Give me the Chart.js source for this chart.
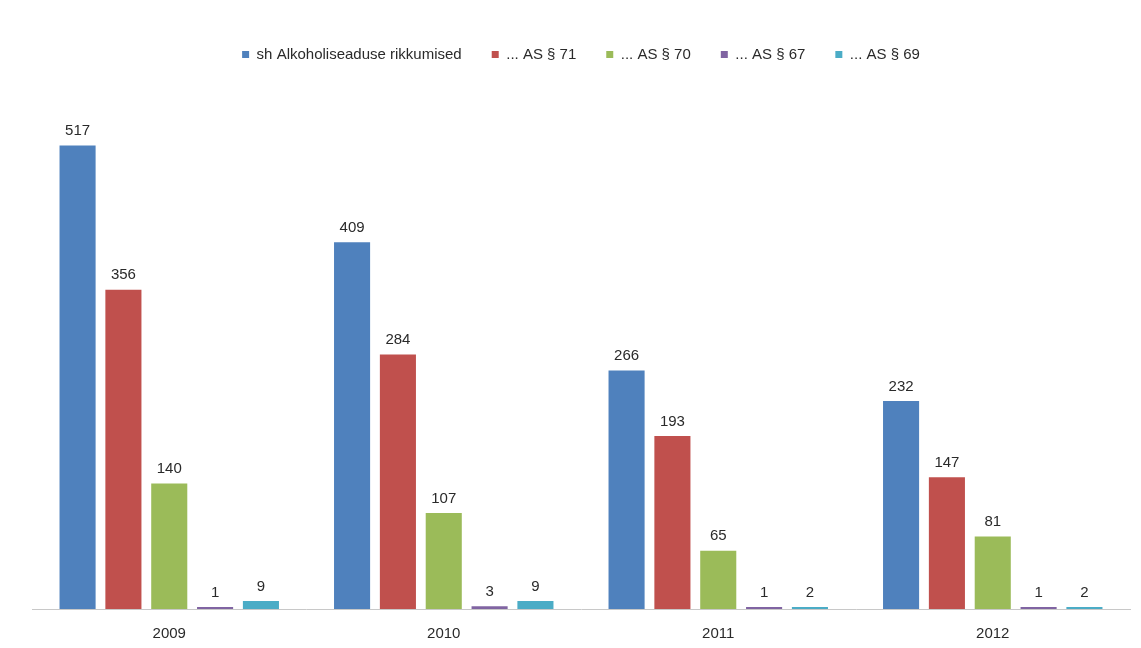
<!DOCTYPE html>
<html>
<head>
<meta charset="utf-8">
<script src="https://cdn.jsdelivr.net/npm/chart.js@4"></script>
<style>
  body { margin: 0; background: #fff; }
  #wrap { width: 1141px; height: 648px; }
</style>
</head>
<body>
<div id="wrap"><canvas id="myChart"></canvas></div>
<script>
// aastad
var years = ["2009", "2010", "2011", "2012"];

// seeria nimed
var seriesNames = ["sh Alkoholiseaduse rikkumised", "... AS § 71", "... AS § 70", "... AS § 67", "... AS § 69"];

// väärtused
var rikkumised = [517, 409, 266, 232];
var as71 = [356, 284, 193, 147];
var as70 = [140, 107, 65, 81];
var as67 = [1, 3, 1, 1];
var as69 = [9, 9, 2, 2];

var colors = ["#4F81BD", "#C0504D", "#9BBB59", "#8064A2", "#4BACC6"];
var fontFam = '"Liberation Sans", Arial, sans-serif';

// väärtuste sildid tulpade kohal
var valueLabels = {
    id: 'valueLabels',
    afterDatasetsDraw: function(chart) {
        var ctx = chart.ctx;
        ctx.save();
        ctx.font = '15px ' + fontFam;
        ctx.fillStyle = '#2a2a2a';
        ctx.textAlign = 'center';
        ctx.textBaseline = 'bottom';
        chart.data.datasets.forEach(function(ds, i) {
            var meta = chart.getDatasetMeta(i);
            meta.data.forEach(function(bar, j) {
                ctx.fillText(ds.data[j], bar.x, bar.y - 7);
            });
        });
        ctx.restore();
    }
};

var allData = [rikkumised, as71, as70, as67, as69];
var datasets = [];
for (var i = 0; i < allData.length; i++) {
    datasets.push({
        label: seriesNames[i],
        data: allData[i],
        backgroundColor: colors[i],
        borderWidth: 0,
        minBarLength: 2,
        barPercentage: 0.787,
        categoryPercentage: 0.835
    });
}

new Chart(document.getElementById('myChart'), {
    type: 'bar',
    data: { labels: years, datasets: datasets },
    plugins: [valueLabels],
    options: {
        responsive: true,
        maintainAspectRatio: false,
        animation: false,
        layout: { padding: { top: 17, left: 32, right: 11, bottom: -11 } },
        plugins: {
            legend: {
                position: 'top',
                labels: {
                    boxWidth: 7,
                    boxHeight: 7,
                    padding: 30,
                    color: '#2a2a2a',
                    font: { family: fontFam, size: 15 }
                }
            },
            tooltip: { enabled: false }
        },
        scales: {
            x: {
                grid: { display: false, drawTicks: false, tickLength: 0 },
                border: { color: '#c8c8c8', width: 1 },
                ticks: {
                    padding: 16,
                    color: '#2a2a2a',
                    font: { family: fontFam, size: 15 }
                }
            },
            y: {
                display: false,
                min: 0,
                max: 599
            }
        }
    }
});
</script>
</body>
</html>
